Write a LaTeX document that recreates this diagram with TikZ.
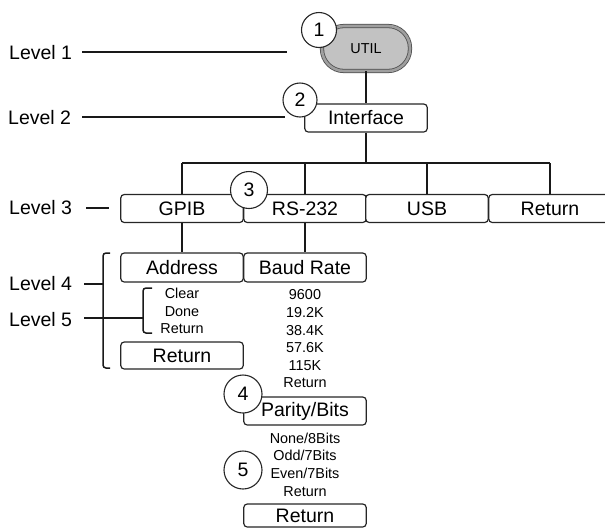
\documentclass[tikz,border=0pt]{standalone}
\usepackage{fontspec}
\setmainfont{Liberation Sans}
\newcommand\bigtxt{\fontsize{19.5}{22}\selectfont}
\newcommand\smalltxt{\fontsize{14.4}{17.6}\selectfont}
\begin{document}
\begin{tikzpicture}[x=1pt,y=-1pt,
  menubox/.style={draw=black!85, line width=1.2pt, rounded corners=3.5pt, fill=white,
    minimum width=122.5pt, minimum height=28pt, inner sep=0pt, font=\bigtxt},
  numcirc/.style={circle, draw=black!85, line width=1.1pt, fill=white, inner sep=0pt, font=\bigtxt},
  lvl/.style={anchor=west, inner sep=0pt, font=\bigtxt},
  conn/.style={draw=black!90, line width=1.5pt},
  lst/.style={align=center, inner sep=0pt, font=\smalltxt}]
\useasboundingbox (0,0) rectangle (605,528);

% Level labels
\node[lvl] (lv1) at (9,53) {Level 1};
\node[lvl] (lv2) at (8,118) {Level 2};
\node[lvl] (lv3) at (9,208) {Level 3};
\node[lvl] (lv4) at (9,284) {Level 4};
\node[lvl] (lv5) at (9,320) {Level 5};
\coordinate (a1) at (82,52);  \coordinate (b1) at (287,52);
\coordinate (a2) at (82,117); \coordinate (b2) at (285,117);
\coordinate (a3) at (86,208); \coordinate (b3) at (109,208);
\coordinate (a4) at (84,284); \coordinate (b4) at (103,284);
\coordinate (a5) at (84,318); \coordinate (b5) at (143,318);
\draw[conn] (a1) -- (b1);
\draw[conn] (a2) -- (b2);
\draw[conn] (a3) -- (b3);
\draw[conn] (a4) -- (b4);
\draw[conn] (a5) -- (b5);

% brackets
\draw[conn, rounded corners=3pt] (110,253) -- (103,253) -- (103,368) -- (110,368);
\draw[conn, rounded corners=3pt] (152,288) -- (143,288) -- (143,333) -- (152,333);

% Level 1
\node[draw=black!70, line width=0.8pt, double=gray!75, double distance=2.6pt,
      fill=gray!48, rounded corners=22pt, minimum width=88pt, minimum height=45pt,
      inner sep=0pt, font=\fontsize{14.4}{16}\selectfont] (util) at (366,48.5) {UTIL};

% Level 2
\node[menubox] (iface) at (366,118) {Interface};

% Level 3
\node[menubox] (gpib) at (182,208.5) {GPIB};
\node[menubox] (rs) at (305,208.5) {RS-232};
\node[menubox] (usb) at (427,208.5) {USB};
\node[menubox] (ret3) at (550,208.5) {Return};

% Level 4
\node[menubox, minimum height=29pt] (addr) at (182,267.5) {Address};
\node[menubox, minimum height=29pt] (baud) at (305,267.5) {Baud Rate};
\node[menubox, minimum height=27pt] (ret4) at (182,355.5) {Return};

\node[lst] (addrlist) at (182,311) {Clear\\Done\\Return};
\node[lst] (baudlist) at (305,339) {9600\\19.2K\\38.4K\\57.6K\\115K\\Return};

\node[menubox] (parity) at (305,411) {Parity/Bits};
\node[lst] (parlist) at (305,464.5) {None/8Bits\\Odd/7Bits\\Even/7Bits\\Return};
\node[menubox, minimum height=23pt] (retlast) at (305,515.5) {Return};

% connectors
\coordinate (bus) at (366,163);
\draw[conn] (util.south) -- (iface.north);
\draw[conn] (iface.south) -- (bus);
\draw[conn] (gpib.north |- bus) -- (ret3.north |- bus);
\draw[conn] (gpib.north |- bus) -- (gpib.north);
\draw[conn] (rs.north |- bus) -- (rs.north);
\draw[conn] (usb.north |- bus) -- (usb.north);
\draw[conn] (ret3.north |- bus) -- (ret3.north);
\draw[conn] (gpib.south) -- (addr.north);
\draw[conn] (rs.south) -- (baud.north);

% number circles
\node[numcirc, minimum size=35pt] (c1) at (319,30) {1};
\node[numcirc, minimum size=34pt] (c2) at (300,100) {2};
\node[numcirc, minimum size=37pt] (c3) at (249,190) {3};
\node[numcirc, minimum size=38pt] (c4) at (243,394) {4};
\node[numcirc, minimum size=38pt] (c5) at (243,470) {5};
\end{tikzpicture}
\end{document}
